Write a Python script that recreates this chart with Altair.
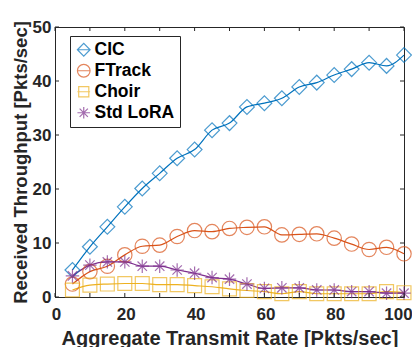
import altair as alt
import pandas as pd

rates = [5, 10, 15, 20, 25, 30, 35, 40, 45, 50, 55, 60, 65, 70, 75, 80, 85, 90, 95, 100]
cic = [5.0, 9.3, 13.0, 16.7, 20.1, 22.9, 25.7, 27.3, 30.9, 32.2, 35.2, 35.9, 36.8, 38.9, 39.7, 41.1, 42.2, 43.4, 42.8, 44.8]
ftrack = [2.4, 4.7, 5.7, 7.8, 9.4, 9.6, 11.2, 12.3, 12.1, 12.7, 12.9, 13.0, 11.5, 11.6, 11.7, 10.9, 9.8, 8.8, 9.2, 8.0]
choir = [1.3, 2.2, 2.4, 2.5, 2.5, 2.3, 2.3, 2.1, 1.9, 1.5, 1.2, 1.0, 0.6, 1.0, 0.6, 0.6, 0.6, 0.6, 1.0, 0.8]
stdlora = [3.9, 5.9, 6.5, 6.5, 5.7, 5.7, 5.0, 4.4, 3.6, 3.3, 2.4, 1.6, 1.7, 1.7, 1.3, 1.3, 1.0, 1.0, 0.7, 0.7]

series = ["CIC", "FTrack", "Choir", "Std LoRA"]
colors = ["#0072BD", "#D95319", "#EDB120", "#7E2F8E"]
asterisk = "M-1,0L1,0M0,-1L0,1M-0.7,-0.7L0.7,0.7M-0.7,0.7L0.7,-0.7"
shapes = ["diamond", "circle", "square", asterisk]
legend_shapes = [
    "M-1,0L0,-1L1,0L0,1ZM-1,0L1,0",
    "M-1,0A1,1,0,1,1,1,0A1,1,0,1,1,-1,0ZM-1,0L1,0",
    "M-0.8,-0.8L0.8,-0.8L0.8,0.8L-0.8,0.8ZM-1,0L1,0",
    "M-1,0L1,0M0,-0.9L0,0.9M-0.65,-0.65L0.65,0.65M-0.65,0.65L0.65,-0.65",
]
marker_sizes = [220, 180, 110, 170]
x_ticks = [0, 10, 20, 30, 40, 50, 60, 70, 80, 90, 100]
y_ticks = [0, 10, 20, 30, 40, 50]

rows = []
for name, vals in zip(series, [cic, ftrack, choir, stdlora]):
    for r, v in zip(rates, vals):
        rows.append({"rate": r, "thr": v, "series": name})
df = pd.DataFrame(rows)

W, H = 349, 270
FONT = "Liberation Sans"

xscale = alt.Scale(domain=[0, 100], nice=False)
yscale = alt.Scale(domain=[0, 50], nice=False)
cscale = alt.Scale(domain=series, range=colors)

xax = alt.Axis(values=x_ticks, title="Aggregate Transmit Rate [Pkts/sec]", ticks=False,
               labelPadding=9, grid=False, titlePadding=6, labelFlush=False,
               titleFontSize=20,
               labelOffset={"condition": {"test": "datum.value == 100", "value": -6}, "value": 1})
yax = alt.Axis(values=y_ticks, title="Received Throughput [Pkts/sec]", ticks=False,
               labelPadding=4, grid=False, titlePadding=2, titleFontSize=18.5)

base = alt.Chart(df)

lines = base.mark_line(interpolate="monotone", strokeWidth=1.2).encode(
    x=alt.X("rate:Q", scale=xscale, axis=xax),
    y=alt.Y("thr:Q", scale=yscale, axis=yax),
    color=alt.Color("series:N", scale=cscale, legend=None),
    detail="series:N",
)

points = base.mark_point(filled=False, strokeWidth=1.2).encode(
    x=alt.X("rate:Q", scale=xscale),
    y=alt.Y("thr:Q", scale=yscale),
    color=alt.Color("series:N", scale=cscale, legend=None),
    shape=alt.Shape("series:N", scale=alt.Scale(domain=series, range=shapes), legend=None),
    size=alt.Size("series:N", scale=alt.Scale(domain=series, range=marker_sizes), legend=None),
)

legend_layer = base.transform_filter("false").mark_point(filled=False, strokeWidth=1.2).encode(
    x=alt.X("rate:Q", scale=xscale),
    y=alt.Y("thr:Q", scale=yscale),
    color=alt.Color("series:N", scale=cscale, sort=series,
                    legend=alt.Legend(title=None, orient="none", legendX=15, legendY=9)),
    shape=alt.Shape("series:N", scale=alt.Scale(domain=series, range=legend_shapes), sort=series,
                    legend=alt.Legend(title=None, orient="none", legendX=15, legendY=9)),
)

xt = pd.DataFrame({"t": x_ticks})
yt = pd.DataFrame({"t": y_ticks})
tick_style = dict(color="#262626", strokeWidth=1)
xb = alt.Chart(xt).mark_rule(**tick_style).encode(x=alt.X("t:Q", scale=xscale), y=alt.value(H), y2=alt.value(H - 4))
xtop = alt.Chart(xt).mark_rule(**tick_style).encode(x=alt.X("t:Q", scale=xscale), y=alt.value(0), y2=alt.value(4))
yl = alt.Chart(yt).mark_rule(**tick_style).encode(y=alt.Y("t:Q", scale=yscale), x=alt.value(0), x2=alt.value(4))
yr = alt.Chart(yt).mark_rule(**tick_style).encode(y=alt.Y("t:Q", scale=yscale), x=alt.value(W), x2=alt.value(W - 4))

chart = alt.layer(lines, points, legend_layer, xb, xtop, yl, yr).resolve_scale(
    shape="independent", color="independent", size="independent"
).resolve_legend(
    shape="independent", color="independent"
).properties(
    width=W, height=H,
    autosize=alt.AutoSizeParams(type="none"),
    padding={"left": 47, "top": 19, "right": 8, "bottom": 50},
).configure_view(
    stroke="#262626", strokeWidth=1
).configure_axis(
    domainColor="#262626", labelColor="#262626", titleColor="#262626",
    labelFont=FONT, titleFont=FONT, labelFontSize=17,
    labelFontWeight="bold", titleFontWeight="bold",
).configure_legend(
    labelFont=FONT, labelFontSize=17.5, labelFontWeight="bold", labelColor="#000000",
    fillColor="white", strokeColor="#262626", padding=5, rowPadding=2,
    symbolSize=160, symbolStrokeWidth=1.2, labelOffset=2, symbolOffset=0,
    cornerRadius=0,
)

chart.save("out.html", embed_options={"renderer": "svg", "actions": False})
